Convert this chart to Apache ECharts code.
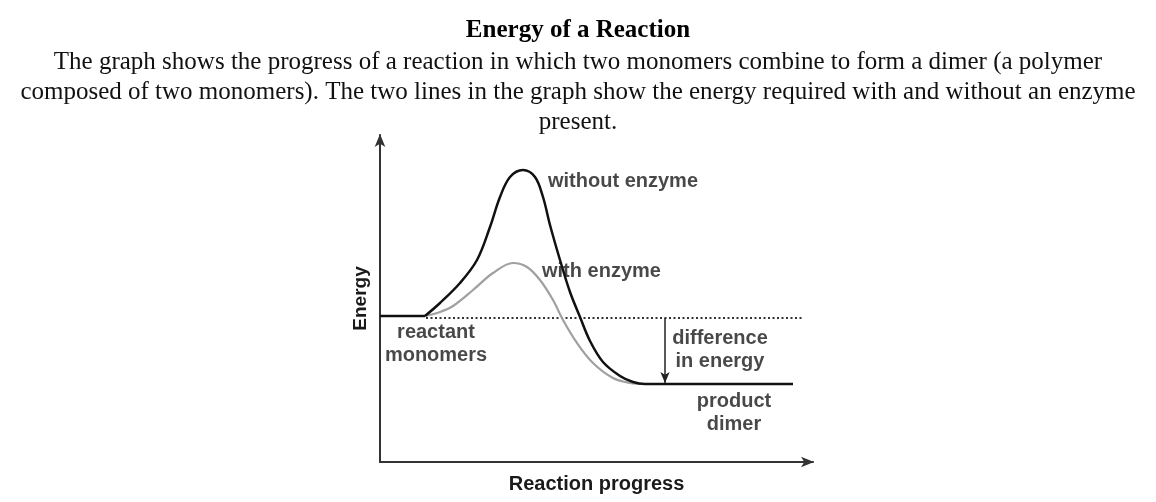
<!DOCTYPE html>
<html>
<head>
<meta charset="utf-8">
<script src="https://cdn.jsdelivr.net/npm/echarts@6/dist/echarts.min.js"></script>
<style>
  html, body { margin: 0; padding: 0; background: #fff; }
  #box1 { width: 1156px; height: 502px; }
</style>
</head>
<body>
<div id="box1"></div>
<script>
// energy curves, x = reaction progress, y = energy (arbitrary units)
var reactantFlat = [[0, 146], [45, 146]];
var withoutEnzyme = [
  [45, 146], [60, 159], [80, 179], [97, 202], [110, 235], [120, 265],
  [130, 285], [143, 292], [155, 285], [163, 265], [170, 237], [180, 202],
  [190, 170], [200, 145], [210, 121], [223, 100], [240, 86], [253, 80],
  [265, 78], [413, 78]
];
var withEnzyme = [
  [45, 146], [60, 150], [73, 156], [93, 172], [113, 189], [133, 199], [147, 195],
  [160, 182], [173, 162], [183, 142], [197, 119], [213, 99], [233, 84],
  [250, 79], [265, 78]
];
var reactantLevel = [[46, 144], [423, 144]];
var energyDrop = [[285, 144], [285, 79]];

var notes = [
  { name: 'without enzyme', value: [168, 281], align: 'left' },
  { name: 'with enzyme', value: [162, 191], align: 'left' },
  { name: 'reactant\nmonomers', value: [56, 118], align: 'center' },
  { name: 'difference\nin energy', value: [340, 112], align: 'center' },
  { name: 'product\ndimer', value: [354, 49], align: 'center' }
];

var titleText = 'Energy of a Reaction';
var introText = 'The graph shows the progress of a reaction in which two monomers combine to form a dimer (a polymer\n' +
  'composed of two monomers). The two lines in the graph show the energy required with and without an enzyme\n' +
  'present.';

var myChart1 = echarts.init(document.getElementById('box1'));
var sans = 'Liberation Sans, Arial, sans-serif';
var serif = 'Liberation Serif, Times New Roman, serif';

var option = {
  backgroundColor: '#fff',
  animation: false,
  title: {
    text: titleText,
    subtext: introText,
    left: 'center',
    top: 13,
    itemGap: 3,
    textStyle: {
      fontFamily: serif, fontSize: 25, fontWeight: 'bold', color: '#000', lineHeight: 26
    },
    subtextStyle: {
      fontFamily: serif, fontSize: 25, color: '#111', lineHeight: 30
    }
  },
  grid: { left: 380, right: 343, top: 135, bottom: 40, outerBoundsMode: 'none', containLabel: false },
  xAxis: {
    type: 'value', min: 0, max: 433,
    name: 'Reaction progress', nameLocation: 'middle', nameGap: 12,
    nameTextStyle: { fontFamily: sans, fontSize: 20, fontWeight: 'bold', color: '#1a1a1a' },
    axisLine: { show: true, symbol: ['none', 'arrow'], symbolSize: [8, 13], symbolOffset: [0, 1],
      lineStyle: { color: '#333', width: 2 } },
    axisTick: { show: false }, axisLabel: { show: false }, splitLine: { show: false }
  },
  yAxis: {
    type: 'value', min: 0, max: 327,
    name: 'Energy', nameLocation: 'middle', nameGap: 10, nameRotate: 90,
    nameTextStyle: { fontFamily: sans, fontSize: 19, fontWeight: 'bold', color: '#1a1a1a' },
    axisLine: { show: true, symbol: ['none', 'arrow'], symbolSize: [8, 13], symbolOffset: [0, 1],
      lineStyle: { color: '#333', width: 2 } },
    axisTick: { show: false }, axisLabel: { show: false }, splitLine: { show: false }
  },
  series: [
    {
      name: 'reactant level', type: 'line', data: reactantLevel, symbol: 'none',
      lineStyle: { color: '#333', width: 1.8, type: [2, 2.5] },
      markLine: {
        silent: true, symbol: ['none', 'arrow'], symbolSize: [7, 11],
        label: { show: false },
        lineStyle: { color: '#222', width: 1.5, type: 'solid' },
        data: [[{ coord: energyDrop[0] }, { coord: energyDrop[1] }]]
      }
    },
    {
      name: 'with enzyme', type: 'line', data: withEnzyme, symbol: 'none',
      smooth: 0.35, lineStyle: { color: '#a0a0a0', width: 2.2 }
    },
    {
      name: 'reactant', type: 'line', data: reactantFlat, symbol: 'none',
      lineStyle: { color: '#111', width: 2.5 }
    },
    {
      name: 'without enzyme', type: 'line', data: withoutEnzyme, symbol: 'none',
      smooth: 0.35, lineStyle: { color: '#111', width: 2.5 }
    },
    {
      name: 'notes', type: 'scatter', symbolSize: 0,
      data: notes.map(function (n) {
        return {
          name: n.name, value: n.value,
          label: { align: n.align }
        };
      }),
      label: {
        show: true, position: 'inside', formatter: '{b}',
        fontFamily: sans, fontSize: 20, fontWeight: 'bold', color: '#1a1a1a',
        lineHeight: 23, verticalAlign: 'middle'
      }
    }
  ]
};

myChart1.setOption(option);
</script>
</body>
</html>
